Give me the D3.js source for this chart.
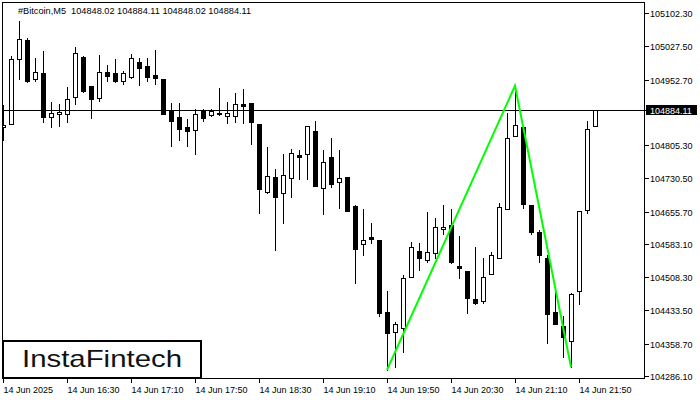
<!DOCTYPE html>
<html>
<head>
<meta charset="utf-8">
<script src="https://cdn.jsdelivr.net/npm/d3@7"></script>
<style>
  html, body { margin: 0; padding: 0; background: #fff; }
  svg { display: block; }
  text { font-family: "Liberation Sans", Arial, sans-serif; }
</style>
</head>
<body>
<svg id="chart" width="700" height="400"></svg>
<script>
// ---------- DATA ----------
const symbolTitle = "#Bitcoin,M5";
const lastBar = { open: 104848.02, high: 104884.11, low: 104848.02, close: 104884.11 };

const opens = [
  104846.0, 104852.7, 104998.9, 105041.6, 104953.9, 104967.4, 104868.4, 104875.2, 104875.2, 104913.4,
  105003.3, 104938.1, 104911.2, 104969.6, 104967.4, 104949.4, 104958.4, 104992.1, 104983.1, 104962.9,
  104953.9, 104881.9, 104868.4, 104846.0, 104839.2, 104881.9, 104872.9, 104877.4, 104870.7, 104870.7,
  104897.7, 104899.9, 104852.7, 104699.8, 104733.5, 104697.5, 104731.3, 104783.0, 104785.2, 104837.0,
  104708.8, 104778.5, 104722.3, 104733.5, 104668.3, 104582.9, 104598.6, 104591.9, 104430.0, 104385.0,
  104394.0, 104508.7, 104567.1, 104546.9, 104562.6, 104616.6, 104625.6, 104533.4, 104522.2, 104459.2,
  104454.7, 104515.4, 104551.4, 104661.6, 104825.7, 104846.0, 104670.6, 104609.9, 104551.4, 104430.0,
  104398.5, 104364.8, 104477.2, 104659.3, 104848.02
];
const highs = [
  104895.4, 105005.6, 105084.3, 105046.1, 105001.1, 105016.8, 104902.2, 104897.7, 104935.9, 105025.8,
  105005.6, 104938.1, 105007.8, 104985.4, 104998.9, 104971.9, 105010.1, 105001.1, 105001.1, 105019.1,
  104953.9, 104899.9, 104899.9, 104863.9, 104886.4, 104886.4, 104886.4, 104933.6, 104902.2, 104922.4,
  104931.4, 104899.9, 104852.7, 104801.0, 104751.5, 104785.2, 104796.5, 104794.2, 104848.2, 104859.4,
  104794.2, 104821.2, 104794.2, 104733.5, 104670.6, 104661.6, 104630.1, 104591.9, 104477.2, 104407.5,
  104513.2, 104587.4, 104585.1, 104654.8, 104641.3, 104670.6, 104661.6, 104600.9, 104522.2, 104576.1,
  104551.4, 104564.9, 104675.1, 104877.4, 104926.9, 104846.0, 104670.6, 104614.4, 104558.1, 104475.0,
  104421.0, 104472.7, 104657.1, 104859.4, 104884.11
];
const lows = [
  104816.7, 104852.7, 104953.9, 104947.1, 104949.4, 104857.2, 104846.0, 104848.2, 104857.2, 104897.7,
  104924.6, 104866.2, 104904.4, 104949.4, 104948.0, 104942.6, 104956.1, 104940.4, 104949.4, 104942.6,
  104875.2, 104803.2, 104816.7, 104803.2, 104785.2, 104859.4, 104871.0, 104874.0, 104854.9, 104857.2,
  104854.9, 104807.7, 104652.6, 104697.5, 104569.4, 104630.1, 104688.6, 104729.0, 104729.0, 104713.3,
  104650.3, 104711.0, 104663.8, 104657.1, 104495.2, 104558.1, 104585.1, 104421.0, 104299.6, 104306.3,
  104340.0, 104508.0, 104524.4, 104542.4, 104551.4, 104605.4, 104540.1, 104506.4, 104427.7, 104449.0,
  104450.2, 104515.4, 104551.4, 104661.6, 104825.7, 104663.8, 104605.4, 104542.4, 104360.3, 104403.0,
  104328.8, 104306.3, 104448.0, 104652.6, 104848.02
];
const closes = [
  104850.5, 104998.9, 105043.8, 104949.4, 104969.6, 104868.4, 104877.4, 104879.7, 104908.9, 105012.3,
  104926.9, 104908.9, 104969.6, 104960.6, 104949.4, 104967.4, 105001.1, 104978.6, 104958.4, 104956.1,
  104875.2, 104859.4, 104841.4, 104837.0, 104875.2, 104866.2, 104881.9, 104875.2, 104877.4, 104897.7,
  104893.2, 104857.2, 104706.5, 104735.8, 104688.6, 104738.0, 104787.5, 104778.5, 104848.2, 104713.3,
  104767.2, 104717.8, 104731.3, 104657.1, 104571.6, 104591.9, 104594.1, 104427.7, 104382.8, 104403.0,
  104506.4, 104576.1, 104551.4, 104564.9, 104621.1, 104621.1, 104542.4, 104528.9, 104461.5, 104450.2,
  104508.7, 104558.1, 104666.1, 104821.2, 104850.5, 104672.8, 104609.9, 104558.1, 104425.5, 104403.0,
  104373.8, 104470.5, 104657.1, 104841.4, 104884.11
];

// price axis tick labels
const priceTicks = [105102.30, 105027.50, 104952.70, 104805.30, 104730.50, 104655.70,
                    104583.10, 104508.30, 104433.50, 104358.70, 104286.10];
const currentPrice = 104884.11;

// time axis labels (bar index -> label)
const timeTickIndex = [0, 8, 16, 24, 32, 40, 48, 56, 64, 72];
const timeTickLabels = ["14 Jun 2025", "14 Jun 16:30", "14 Jun 17:10", "14 Jun 17:50", "14 Jun 18:30",
                        "14 Jun 19:10", "14 Jun 19:50", "14 Jun 20:30", "14 Jun 21:10", "14 Jun 21:50"];

// double-top pattern (bar index, price)
const patternIndex = [48, 64, 71];
const patternPrice = [104299.6, 104938.8, 104306.3];

const logoText = "InstaFintech";

// ---------- DRAW ----------
const svg = d3.select("#chart");
const plot = { left: 2.5, right: 644.5, top: 2.5, bottom: 378.5 };

const x = d3.scaleLinear().domain([0, 80]).range([3, 643]);
const y = d3.scaleLinear().domain([104286.10, 105102.30]).range([376, 13]);

const bars = opens.map((o, i) => ({ i, o, h: highs[i], l: lows[i], c: closes[i] }));

svg.append("defs").append("clipPath").attr("id", "clip")
  .append("rect").attr("x", 2).attr("y", plot.top).attr("width", plot.right - 2).attr("height", plot.bottom - plot.top);

const g = svg.append("g").attr("clip-path", "url(#clip)").attr("shape-rendering", "crispEdges");

// current price line
const py = Math.round(y(currentPrice)) + 0.5;
svg.append("line").attr("x1", plot.left).attr("x2", plot.right).attr("y1", py).attr("y2", py)
  .attr("stroke", "#000").attr("stroke-width", 1).attr("shape-rendering", "crispEdges");

// wicks
g.selectAll("line.wick").data(bars).enter().append("line")
  .attr("class", "wick")
  .attr("x1", d => Math.round(x(d.i)) + 0.5).attr("x2", d => Math.round(x(d.i)) + 0.5)
  .attr("y1", d => Math.round(y(d.h))).attr("y2", d => Math.round(y(d.l)) + 1)
  .attr("stroke", "#000").attr("stroke-width", 1);

// bodies
g.selectAll("rect.body").data(bars).enter().append("rect")
  .attr("class", "body")
  .attr("x", d => Math.round(x(d.i)) - 2 + 0.5)
  .attr("y", d => Math.round(y(Math.max(d.o, d.c))) + 0.5)
  .attr("width", 4)
  .attr("height", d => Math.max(0, Math.round(y(Math.min(d.o, d.c))) - Math.round(y(Math.max(d.o, d.c)))))
  .attr("fill", d => d.c >= d.o ? "#fff" : "#000")
  .attr("stroke", "#000").attr("stroke-width", 1);

// pattern line
const line = d3.line().x(d => x(d[0])).y(d => y(d[1]));
svg.append("path")
  .datum(patternIndex.map((v, k) => [v, patternPrice[k]]))
  .attr("d", line)
  .attr("fill", "none").attr("stroke", "#00ff00").attr("stroke-width", 2);

// frame
svg.append("rect").attr("x", plot.left).attr("y", plot.top)
  .attr("width", plot.right - plot.left).attr("height", plot.bottom - plot.top)
  .attr("fill", "none").attr("stroke", "#000").attr("stroke-width", 1).attr("shape-rendering", "crispEdges");

// price axis
const yAxis = svg.append("g").attr("shape-rendering", "crispEdges");
priceTicks.forEach(t => {
  const ty = Math.round(y(t)) + 0.5;
  yAxis.append("line").attr("x1", plot.right).attr("x2", plot.right + 4).attr("y1", ty).attr("y2", ty)
    .attr("stroke", "#000");
  yAxis.append("text").attr("x", 650).attr("y", ty).attr("dy", "0.35em")
    .attr("font-size", 9).attr("fill", "#000").attr("shape-rendering", "auto").text(t.toFixed(2));
});
// current price tag
yAxis.append("line").attr("x1", plot.right).attr("x2", plot.right + 4).attr("y1", py).attr("y2", py).attr("stroke", "#000");
svg.append("rect").attr("x", 646).attr("y", py - 5.5).attr("width", 51).attr("height", 10).attr("fill", "#000");
svg.append("text").attr("x", 650).attr("y", py).attr("dy", "0.35em").attr("font-size", 9)
  .attr("fill", "#fff").text(currentPrice.toFixed(2));

// time axis
const xAxis = svg.append("g");
timeTickIndex.forEach((idx, k) => {
  const tx = Math.round(x(idx)) + 0.5;
  xAxis.append("line").attr("x1", tx).attr("x2", tx).attr("y1", plot.bottom).attr("y2", plot.bottom + 4)
    .attr("stroke", "#000").attr("shape-rendering", "crispEdges");
  xAxis.append("text").attr("x", tx).attr("y", 393).attr("font-size", 9).attr("fill", "#000")
    .text(timeTickLabels[k]);
});

// header
svg.append("text").attr("x", 18).attr("y", 14).attr("font-size", 9.2).attr("fill", "#000")
  .style("white-space", "pre")
  .text(symbolTitle + "  " + [lastBar.open, lastBar.high, lastBar.low, lastBar.close].map(v => v.toFixed(2)).join(" "));

// logo
svg.append("rect").attr("x", 3).attr("y", 341).attr("width", 198).attr("height", 37)
  .attr("fill", "#fff").attr("stroke", "#000").attr("stroke-width", 2);
svg.append("text").attr("x", 22).attr("y", 367)
  .attr("font-family", "Inter, 'Open Sans', sans-serif").attr("font-weight", 500)
  .attr("font-size", 24).attr("fill", "#111")
  .attr("textLength", 160).attr("lengthAdjust", "spacingAndGlyphs")
  .text(logoText);
</script>
</body>
</html>
